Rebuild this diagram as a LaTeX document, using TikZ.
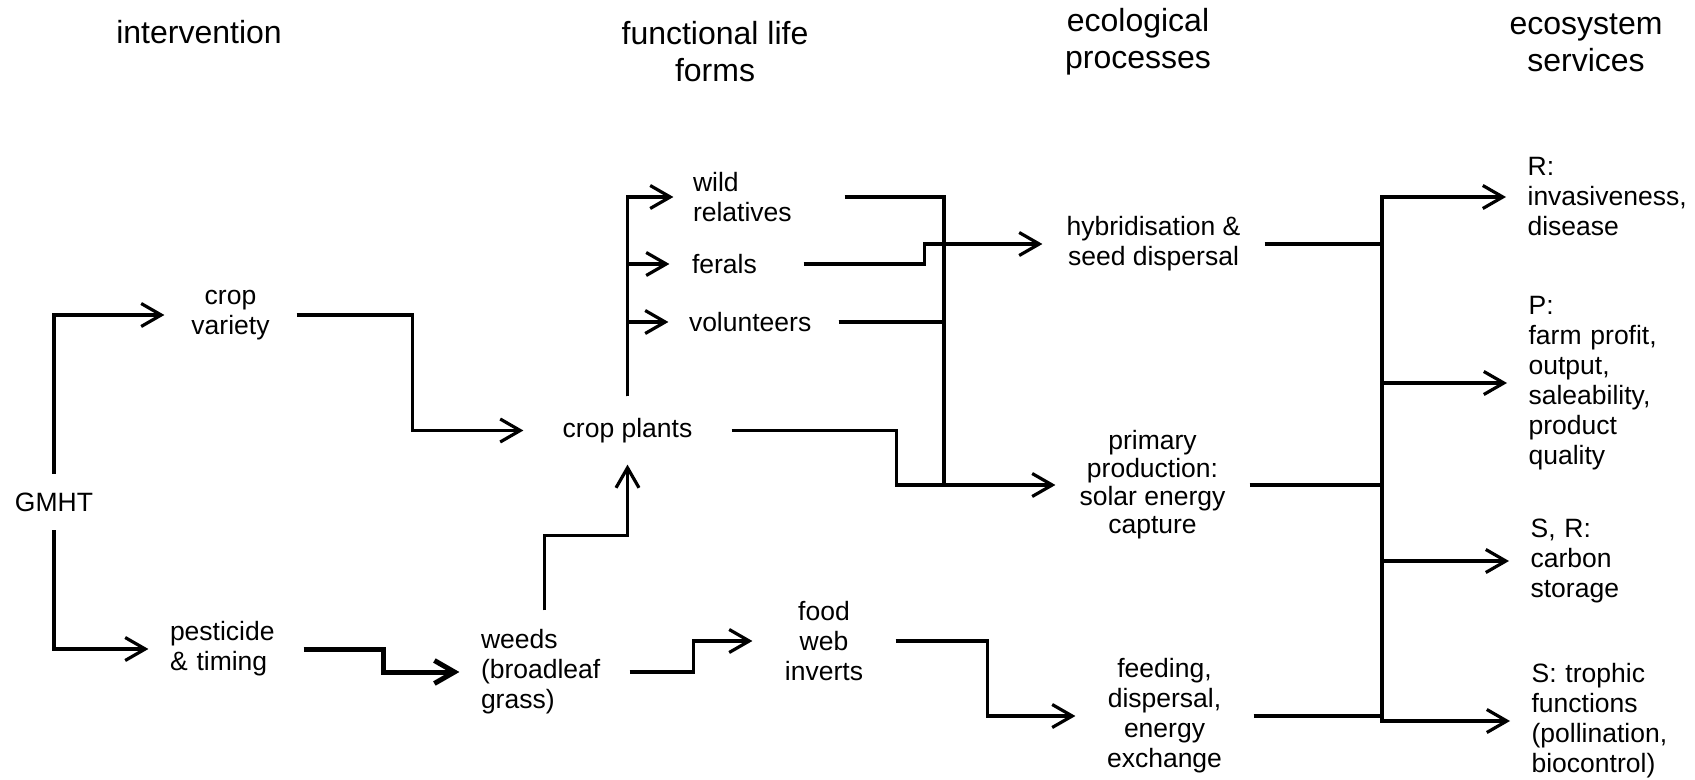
\documentclass[tikz,border=0pt]{standalone}
\usepackage{fontspec}
\setmainfont{Liberation Sans}
\usetikzlibrary{arrows.meta,calc}
\begin{document}
\begin{tikzpicture}[x=0.5pt,y=-0.5pt,
  every node/.style={font=\fontsize{13.25pt}{15pt}\selectfont, inner sep=0pt},
  hdr/.style={font=\fontsize{16pt}{18.5pt}\selectfont, align=center},
  ctr/.style={align=center, minimum width=#1},
  lft/.style 2 args={align=left, inner xsep=#1, text width=#2},
  arr/.style={-{Straight Barb[length=10pt,width=11.5pt]}},
  ln/.style={line width=1.6pt},
  thk/.style={line width=2.5pt},
  every path/.style={line width=1.6pt}
]
\useasboundingbox (0,0) rectangle (1695,780);

% headers
\node[hdr] (h1) at (199,32) {intervention};
\node[hdr] (h2) at (715,52) {functional life\\forms};
\node[hdr] (h3) at (1138,42) {ecological\\processes};
\node[hdr] (h4) at (1586,43) {ecosystem\\services};

% intervention column
\node[minimum width=40pt, minimum height=26.5pt] (gmht) at (54,502) {GMHT};
\node[ctr=64.5pt] (cv) at (230.5,315) {crop\\variety};
\node[lft={10pt}{56pt}] (pest) at (226,649) {pesticide\\\& timing};

% functional life forms
\node[ctr=102.5pt, minimum height=32.5pt] (cp) at (627.5,430.5) {crop plants};
\node[lft={9pt}{66pt}] (wild) at (759,197) {wild\\relatives};
\node[lft={10.5pt}{44.5pt}] (ferals) at (736.5,264) {ferals};
\node[lft={9.5pt}{64.5pt}] (vol) at (753.5,322) {volunteers};
\node[lft={10pt}{63.5pt}, minimum height=60pt] (weeds) at (544.5,672) {weeds\\(broadleaf\\grass)};
\node[ctr=70pt] (food) at (824,641) {food\\web\\inverts};

% ecological processes
\node[ctr=109.5pt] (hyb) at (1153.5,244) {hybridisation \&\\seed dispersal};
\node[ctr=95.5pt, font=\fontsize{13.25pt}{14pt}\selectfont] (prim) at (1152.5,485) {primary\\production:\\solar energy\\capture};
\node[ctr=87.5pt] (feed) at (1164.5,716) {feeding,\\dispersal,\\energy\\exchange};

% ecosystem services
\node[lft={10pt}{80pt}, anchor=west] (rR) at (1506,197) {R:\\invasiveness,\\disease};
\node[lft={10pt}{80pt}, anchor=west] (rP) at (1507,383) {P:\\farm profit,\\output,\\saleability,\\product\\quality};
\node[lft={10pt}{80pt}, anchor=west] (rS) at (1509,561) {S, R:\\carbon\\storage};
\node[lft={10pt}{80pt}, anchor=west] (rT) at (1510,721) {S: trophic\\functions\\(pollination,\\biocontrol)};

% junction coordinates
\coordinate (jh) at (944,244);
\coordinate (jp) at (944,485);
\coordinate (trTop) at (1382,197);

% connectors: intervention
\draw[arr] (gmht.north) |- (cv.west);
\draw[arr] (gmht.south) |- (pest.west);
\draw[arr] (cv.east) -- ++(116,0) |- (cp.west);
\draw[arr,thk] (pest.east) -- ++(80,0) |- (weeds.west);

% functional life forms
\draw[arr] (weeds.north) -- ++(0,-75) -| (cp.south);
\draw[arr] (cp.north) |- (wild.west);
\draw[arr] (cp.north) |- (ferals.west);
\draw[arr] (cp.north) |- (vol.west);
\draw[arr] (weeds.east) -- ++(64,0) |- (food.west);

% to ecological processes
\draw[arr] (ferals.east) -- ++(121,0) |- (hyb.west);
\draw (wild.east) -| (jh);
\draw (vol.east) -| (jh);
\draw (vol.east) -| (jp);
\draw[arr] (cp.east) -- ++(165,0) |- (prim.west);
\draw[arr] (food.east) -- ++(92,0) |- (feed.west);

% to ecosystem services
\draw[arr] (rT.west -| trTop) -- (trTop) -- (rR.west);
\draw (hyb.east) -- (hyb.east -| trTop);
\draw (prim.east) -- (prim.east -| trTop);
\draw[arr] (feed.east) -| (rT.west -| trTop) -- (rT.west);
\draw[arr] (rP.west -| trTop) -- (rP.west);
\draw[arr] (rS.west -| trTop) -- (rS.west);
\end{tikzpicture}
\end{document}
